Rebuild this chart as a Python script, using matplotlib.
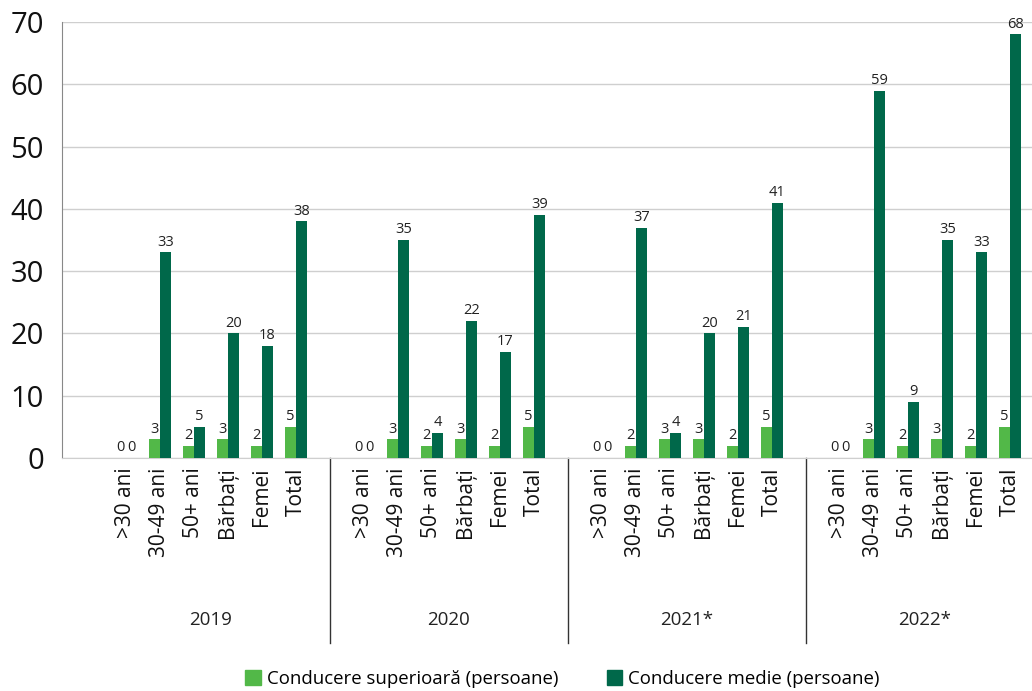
import matplotlib.pyplot as plt
from matplotlib.lines import Line2D
from matplotlib.patches import Patch

plt.rcParams["font.family"] = ["Open Sans", "DejaVu Sans"]

years = ["2019", "2020", "2021*", "2022*"]
categories = [">30 ani", "30-49 ani", "50+ ani", "Bărbați", "Femei", "Total"]

senior = [
    [0, 3, 2, 3, 2, 5],
    [0, 3, 2, 3, 2, 5],
    [0, 2, 3, 3, 2, 5],
    [0, 3, 2, 3, 2, 5],
]
middle = [
    [0, 33, 5, 20, 18, 38],
    [0, 35, 4, 22, 17, 39],
    [0, 37, 4, 20, 21, 41],
    [0, 59, 9, 35, 33, 68],
]

LIGHT = "#52b848"
DARK = "#00684a"
GRID = "#cfcfcf"

fig = plt.figure(figsize=(10.32, 6.91), dpi=100)
ax = fig.add_axes([62 / 1032, 233 / 691, 970 / 1032, 436 / 691])

bw = 0.32
slot = 7  # six categories plus one blank slot per year
xs, labels = [], []
for g, year in enumerate(years):
    for k, cat in enumerate(categories):
        x = g * slot + k + 1
        xs.append(x)
        labels.append(cat)
        s, m = senior[g][k], middle[g][k]
        ax.bar(x - bw / 2, s, width=bw, color=LIGHT, zorder=3)
        ax.bar(x + bw / 2, m, width=bw, color=DARK, zorder=3)
        ax.annotate(str(s), (x - bw / 2, s), xytext=(0, 2), textcoords="offset points",
                    ha="center", va="bottom", fontsize=10.5, color="#222222")
        ax.annotate(str(m), (x + bw / 2, m), xytext=(0, 2), textcoords="offset points",
                    ha="center", va="bottom", fontsize=10.5, color="#222222")

    ax.text(g * slot + 3.5, -0.372, year, transform=ax.get_xaxis_transform(),
            ha="center", va="center", fontsize=13.5, color="#222222")
    if g > 0:
        ax.add_line(Line2D([g * slot, g * slot], [0, -0.425], transform=ax.get_xaxis_transform(),
                           color="#333333", lw=1, clip_on=False))

ax.set_xlim(-0.88, 27.65)
ax.set_ylim(0, 70)
ax.set_yticks(range(0, 71, 10))
ax.tick_params(axis="y", length=0, pad=13, labelsize=21, labelcolor="#111111")
ax.set_xticks(xs)
ax.set_xticklabels(labels, rotation=90, fontsize=15, color="#111111")
ax.tick_params(axis="x", length=0, pad=7)

ax.grid(axis="y", color=GRID, lw=1, zorder=0)
ax.set_axisbelow(True)
for side in ["top", "right"]:
    ax.spines[side].set_visible(False)
ax.spines["bottom"].set_color(GRID)
ax.spines["left"].set_color("#888888")

handles = [Patch(color=LIGHT, label="Conducere superioară (persoane)"),
           Patch(color=DARK, label="Conducere medie (persoane)")]
fig.legend(handles=handles, loc="center", bbox_to_anchor=(0.545, 0.017), ncol=2,
           frameon=False, fontsize=13.4, handlelength=0.85, handleheight=0.85,
           handletextpad=0.3, columnspacing=2.6)

fig.savefig("out.png", dpi=100)
